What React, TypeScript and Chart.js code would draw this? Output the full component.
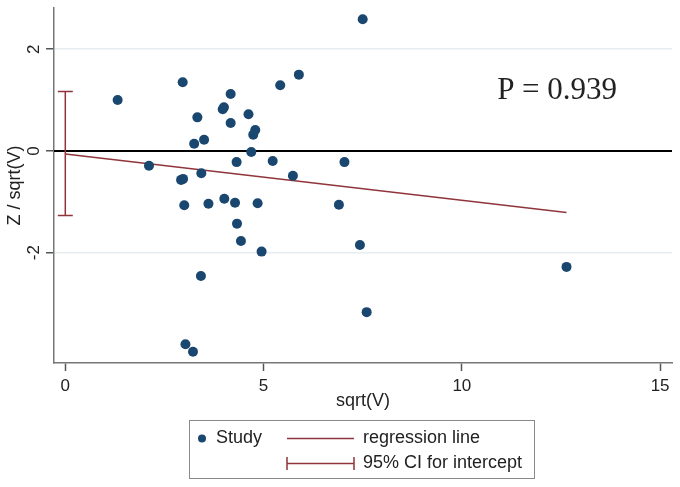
import React, { useEffect, useRef } from "react";
import { Chart, registerables } from "chart.js";

Chart.register(...registerables);

// ---- data ----
const studyX = [
  1.32, 2.96, 5.89, 5.42, 4.17, 4.0, 3.97, 3.33, 4.62, 4.17,
  4.79, 4.74, 3.25, 3.5, 4.69, 4.32, 5.23, 2.11, 2.92, 2.97,
  3.43, 5.74, 7.5, 7.04, 3.0, 3.61, 4.01, 4.28, 4.85, 6.9,
  4.33, 4.43, 4.95, 3.42, 3.03, 3.22, 7.43, 12.64, 7.6,
];
const studyY = [
  1.0, 1.35, 1.5, 1.29, 1.12, 0.86, 0.82, 0.66, 0.72, 0.55,
  0.41, 0.32, 0.14, 0.22, -0.02, -0.22, -0.2, -0.29, -0.57, -0.55,
  -0.44, -0.49, 2.59, -0.22, -1.07, -1.04, -0.94, -1.02, -1.03, -1.06,
  -1.43, -1.77, -1.98, -2.46, -3.8, -3.95, -1.85, -2.28, -3.17,
];
const regressionX = [0, 12.64];
const regressionY = [-0.06, -1.21];
const ciX = [0];
const ciLower = [-1.27];
const ciUpper = [1.17];
const xTicks = [0, 5, 10, 15];
const yTicks = [-2, 0, 2];
const pLabel = "P = 0.939";
const pAnchor = { x: 10.89, y: 1.02 };
const legendLabels = ["Study", "regression line", "95% CI for intercept"];

const NAVY = "#1a476f";
const MAROON = "#90353b";
const SANS = '"Liberation Sans", Arial, Helvetica, sans-serif';
const SERIF = '"Liberation Serif", "Times New Roman", serif';
const TEXT = "#222";

export default function App() {
  const ref = useRef<HTMLCanvasElement>(null);

  useEffect(() => {
    const canvas = ref.current;
    if (!canvas) return;

    const overlay = {
      id: "overlay",
      beforeDatasetsDraw(chart: any) {
        const { ctx, chartArea, scales } = chart;
        const x = scales.x;
        const y = scales.y;
        ctx.save();
        // zero reference line
        const y0 = y.getPixelForValue(0);
        ctx.strokeStyle = "#000";
        ctx.lineWidth = 2;
        ctx.beginPath();
        ctx.moveTo(chartArea.left, y0);
        ctx.lineTo(chartArea.right, y0);
        ctx.stroke();
        // CI for intercept
        ctx.strokeStyle = MAROON;
        ctx.lineWidth = 1.5;
        for (let i = 0; i < ciX.length; i++) {
          const cx = x.getPixelForValue(ciX[i]);
          const yl = y.getPixelForValue(ciLower[i]);
          const yu = y.getPixelForValue(ciUpper[i]);
          ctx.beginPath();
          ctx.moveTo(cx, yl);
          ctx.lineTo(cx, yu);
          ctx.moveTo(cx - 7.5, yl);
          ctx.lineTo(cx + 7.5, yl);
          ctx.moveTo(cx - 7.5, yu);
          ctx.lineTo(cx + 7.5, yu);
          ctx.stroke();
        }
        ctx.restore();
      },
      afterDraw(chart: any) {
        const { ctx, scales } = chart;
        const x = scales.x;
        const y = scales.y;
        ctx.save();
        // rotated y tick labels
        ctx.fillStyle = TEXT;
        ctx.font = `17px ${SANS}`;
        ctx.textAlign = "center";
        ctx.textBaseline = "middle";
        for (const v of yTicks) {
          const py = y.getPixelForValue(v);
          ctx.save();
          ctx.translate(34, py);
          ctx.rotate(-Math.PI / 2);
          ctx.fillText(String(v), 0, 0);
          ctx.restore();
        }
        // P annotation
        ctx.font = `31px ${SERIF}`;
        ctx.textAlign = "left";
        ctx.textBaseline = "alphabetic";
        ctx.fillText(pLabel, x.getPixelForValue(pAnchor.x), y.getPixelForValue(pAnchor.y));

        // legend
        ctx.strokeStyle = "#8a8a8a";
        ctx.lineWidth = 1;
        ctx.strokeRect(189.5, 420.5, 345, 58);
        const r1 = 438.5;
        const r2 = 463.5;
        ctx.fillStyle = NAVY;
        ctx.beginPath();
        ctx.arc(202, r1, 4, 0, Math.PI * 2);
        ctx.fill();
        ctx.strokeStyle = MAROON;
        ctx.lineWidth = 1.5;
        ctx.beginPath();
        ctx.moveTo(287, r1);
        ctx.lineTo(354, r1);
        ctx.moveTo(287, r2);
        ctx.lineTo(354, r2);
        ctx.moveTo(287, r2 - 6.5);
        ctx.lineTo(287, r2 + 6.5);
        ctx.moveTo(354, r2 - 6.5);
        ctx.lineTo(354, r2 + 6.5);
        ctx.stroke();
        ctx.fillStyle = TEXT;
        ctx.font = `18px ${SANS}`;
        ctx.textBaseline = "middle";
        ctx.fillText(legendLabels[0], 216, r1);
        ctx.fillText(legendLabels[1], 363, r1);
        ctx.fillText(legendLabels[2], 363, r2);
        ctx.restore();
      },
    };

    const chart = new Chart(canvas, {
      type: "scatter",
      data: {
        datasets: [
          {
            label: legendLabels[0],
            data: studyX.map((v, i) => ({ x: v, y: studyY[i] })),
            backgroundColor: NAVY,
            borderColor: NAVY,
            borderWidth: 0,
            pointRadius: 5,
          },
          {
            label: legendLabels[1],
            data: regressionX.map((v, i) => ({ x: v, y: regressionY[i] })),
            showLine: true,
            borderColor: MAROON,
            borderWidth: 1.5,
            pointRadius: 0,
          },
        ],
      },
      options: {
        animation: false,
        responsive: false,
        maintainAspectRatio: false,
        devicePixelRatio: 1,
        layout: { padding: { left: 0, right: 8, top: 8, bottom: 75 } },
        plugins: {
          legend: { display: false },
          tooltip: { enabled: false },
        },
        scales: {
          x: {
            type: "linear",
            min: -0.285,
            max: 15.3,
            afterBuildTicks: (s: any) => {
              s.ticks = xTicks.map((v) => ({ value: v }));
            },
            afterFit: (s: any) => {
              s.height = 49;
            },
            ticks: {
              color: TEXT,
              font: { family: SANS, size: 17 },
              padding: 5,
              maxRotation: 0,
              minRotation: 0,
            },
            grid: {
              display: true,
              drawOnChartArea: false,
              drawTicks: true,
              tickLength: 8,
              tickColor: "#555",
              tickWidth: 1.5,
            },
            border: { display: true, color: "#777", width: 1.5 },
            title: {
              display: true,
              text: "sqrt(V)",
              color: TEXT,
              font: { family: SANS, size: 18 },
              padding: { top: 0, bottom: 0 },
            },
          },
          y: {
            type: "linear",
            min: -4.17,
            max: 2.81,
            afterBuildTicks: (s: any) => {
              s.ticks = yTicks.map((v) => ({ value: v }));
            },
            afterFit: (s: any) => {
              s.width = 54;
            },
            ticks: {
              color: "rgba(0,0,0,0)",
              font: { family: SANS, size: 6 },
            },
            grid: {
              color: (c: any) => (c.tick && c.tick.value === 0 ? "rgba(0,0,0,0)" : "#e6edf0"),
              lineWidth: 1.5,
              drawTicks: true,
              tickLength: 8,
              tickColor: "#555",
              tickWidth: 1.5,
            },
            border: { display: true, color: "#777", width: 1.5 },
            title: {
              display: true,
              text: "Z / sqrt(V)",
              color: TEXT,
              font: { family: SANS, size: 18 },
              padding: { top: 4, bottom: 0 },
            },
          },
        },
      },
      plugins: [overlay],
    });

    return () => chart.destroy();
  }, []);

  return (
    <div style={{ position: "absolute", left: 0, top: 0, width: 680, height: 487, background: "#fff" }}>
      <canvas ref={ref} width={680} height={487} style={{ display: "block" }} />
    </div>
  );
}
